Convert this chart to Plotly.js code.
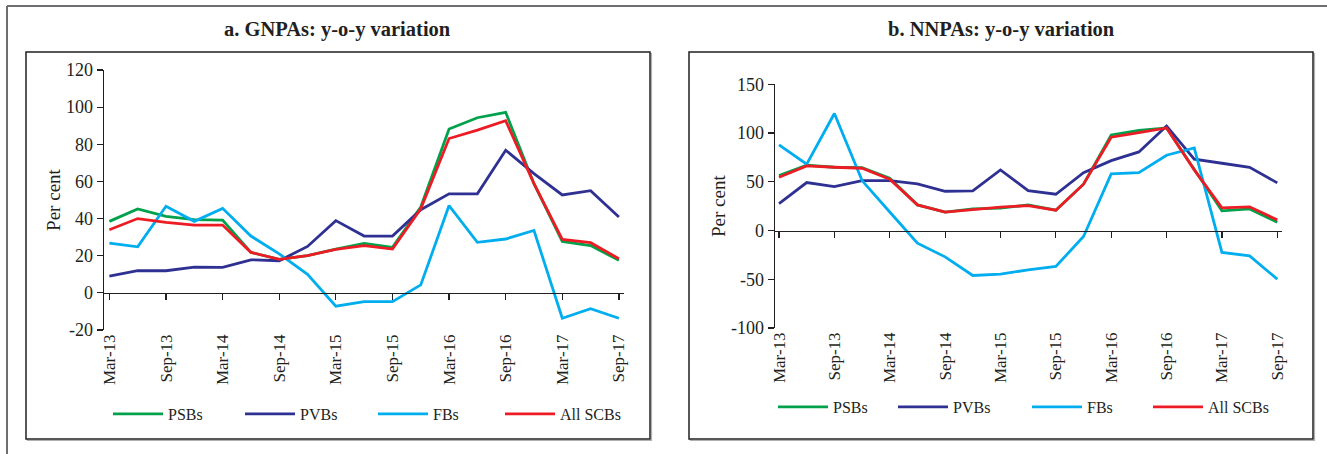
<!DOCTYPE html>
<html><head><meta charset="utf-8">
<script src="https://cdn.plot.ly/plotly-3.0.1.min.js"></script>
<style>html,body{margin:0;padding:0;background:#fff}#chart{width:1327px;height:454px}</style>
</head><body><div id="chart"></div>
<script>
// ---- data ----
const quarters = ["Mar-13","Jun-13","Sep-13","Dec-13","Mar-14","Jun-14","Sep-14","Dec-14","Mar-15","Jun-15","Sep-15","Dec-15","Mar-16","Jun-16","Sep-16","Dec-16","Mar-17","Jun-17","Sep-17"];
const tickLabels = ["Mar-13","Sep-13","Mar-14","Sep-14","Mar-15","Sep-15","Mar-16","Sep-16","Mar-17","Sep-17"];
const gnpaYTicks = [-20,0,20,40,60,80,100,120];
const nnpaYTicks = [-100,-50,0,50,100,150];
const seriesNames = ["PSBs","PVBs","FBs","All SCBs"];
const panelTitles = ["a. GNPAs: y-o-y variation","b. NNPAs: y-o-y variation"];
const yTitle = "Per cent";
const gnpaPSBs = [38.5,45.2,41.2,39.4,39.2,21.8,18,20.1,23.6,26.6,24.5,46.2,88.2,94.3,97.2,58.8,27.7,25.5,17.5];
const gnpaPVBs = [9,12,11.9,13.9,13.7,17.8,17.3,25,38.9,30.6,30.6,44.8,53.3,53.3,76.8,64.2,52.7,55,40.8];
const gnpaFBs  = [26.8,24.8,46.6,38.5,45.5,30.6,21,10,-7.2,-4.7,-4.7,4.3,47,27.2,29,33.6,-13.7,-8.5,-13.7];
const gnpaAll  = [34,40,38,36.5,36.5,21.8,18,20.1,23.4,25.4,23.6,45.3,83.1,87.6,92.7,58.8,28.8,27,18.4];
const nnpaPSBs = [56.4,67,64.9,64.6,53.6,26.3,18.8,22.2,23,26.3,20.8,47.5,98,102.8,105.2,62.2,20.2,22.2,8.5];
const nnpaPVBs = [27.7,49.2,45.1,51.2,51.2,47.8,40.3,40.7,62.2,41,37.2,59.4,71.7,80.6,107.3,73.1,69,64.9,48.9];
const nnpaFBs  = [87.8,68,120,51.2,19,-13,-27,-46.1,-44.8,-40.3,-36.9,-6.1,58.1,59.4,77.2,84.7,-22.5,-26,-49.9];
const nnpaAll  = [54.7,66.3,64.9,63.9,52.6,26.3,18.8,21.5,24,25.6,20.8,47.5,95.7,100.4,105.2,62.2,23.2,24.3,10.9];

// ---- styling / layout ----
const W = 1327, H = 454;
const fx = p => p / W, fy = p => 1 - p / H;
const colors = ["#00a14b", "#2e3192", "#00aeef", "#ed1c24"];
const FONT = "Liberation Serif, Times New Roman, serif";
const INK = "#231f20";

const panels = [
  {series:[gnpaPSBs,gnpaPVBs,gnpaFBs,gnpaAll], yticks:gnpaYTicks, xd:[fx(104),fx(624)], yd:[fy(330),fy(70)], yr:[-20,120], xr:[-0.19,18.18],
   legX:[113,245,378,505], legY:414, titleX:338, box:[26,52,650,439]},
  {series:[nnpaPSBs,nnpaPVBs,nnpaFBs,nnpaAll], yticks:nnpaYTicks, xd:[fx(775),fx(1282)], yd:[fy(328),fy(84.3)], yr:[-100,150], xr:[-0.145,18.17],
   legX:[778,898,1032,1153], legY:407, titleX:1001, box:[689,52,1313,439]}
];

const data = [];
const layout = {
  width: W, height: H, margin:{l:0,r:0,t:0,b:0},
  paper_bgcolor:"#fff", plot_bgcolor:"rgba(0,0,0,0)",
  font:{family:FONT, color:INK, size:17},
  showlegend:true, shapes:[], annotations:[]
};

panels.forEach((p, k) => {
  const xa = k === 0 ? "x" : "x2", ya = k === 0 ? "y" : "y2";
  const xo = k === 0 ? "x3" : "x4";
  const xKey = k === 0 ? "xaxis" : "xaxis2", yKey = k === 0 ? "yaxis" : "yaxis2";
  const xoKey = k === 0 ? "xaxis3" : "xaxis4";
  p.series.forEach((ys, i) => {
    const n = k*4 + i;
    const legName = "legend" + (n === 0 ? "" : (n + 1));
    data.push({type:"scatter", mode:"lines", name:seriesNames[i], x:quarters, y:ys,
      xaxis: i === 3 ? xo : xa, yaxis: ya, legend: legName,
      line:{color:colors[i], width:2.8}, hoverinfo:"skip"});
    layout[legName] = {
      x: fx(p.legX[i] - 5), y: fy(p.legY), xanchor:"left", yanchor:"middle",
      orientation:"h", bgcolor:"rgba(0,0,0,0)", borderwidth:0,
      font:{family:FONT, size:16, color:INK}, itemwidth:50
    };
  });
  layout[xKey] = {domain:p.xd, anchor:ya, type:"category", range:p.xr,
    tickmode:"array", tickvals:tickLabels, tickangle:-90, ticks:"", showline:false,
    showgrid:false, zeroline:false, tickfont:{family:FONT, size:17, color:INK}, automargin:false};
  layout[yKey] = {domain:p.yd, anchor:xa, range:p.yr, tickmode:"array", tickvals:p.yticks,
    ticktext:p.yticks.map(v => String(v)), ticks:"outside", ticklen:6,
    tickwidth:1.2, tickcolor:INK, showline:true, linecolor:INK, linewidth:1.5, showgrid:false, zeroline:false,
    tickfont:{family:FONT, size:18, color:INK}, automargin:false,
    title:{text:yTitle, font:{family:FONT, size:19, color:INK}, standoff:0}};
  const zeroPos = p.yd[0] + (0 - p.yr[0]) / (p.yr[1] - p.yr[0]) * (p.yd[1] - p.yd[0]);
  layout[xoKey] = {overlaying:xa, anchor:"free", position:zeroPos, type:"category", range:p.xr,
    tickmode:"array", tickvals:tickLabels, showticklabels:false, ticks:"outside", ticklen:6,
    tickwidth:1.2, tickcolor:INK, showline:true, linecolor:INK, linewidth:1.5, showgrid:false, zeroline:false};
  // frames
  const b = p.box;
  layout.shapes.push({type:"rect", xref:"paper", yref:"paper", x0:fx(b[0]+1.5), x1:fx(b[2]+1.5), y0:fy(b[3]+1.5), y1:fy(b[1]+1.5),
    line:{color:"#b0b0b0", width:1.2}, layer:"below"});
  layout.shapes.push({type:"rect", xref:"paper", yref:"paper", x0:fx(b[0]), x1:fx(b[2]), y0:fy(b[3]), y1:fy(b[1]),
    line:{color:INK, width:1.5}, fillcolor:"#fff", layer:"below"});
  layout.annotations.push({xref:"paper", yref:"paper", x:fx(p.titleX), y:fy(30), xanchor:"center", yanchor:"middle",
    text:"<b>" + panelTitles[k] + "</b>", showarrow:false, font:{family:FONT, size:20.5, color:INK}});
});
// outer frame lines
layout.shapes.push({type:"line", xref:"paper", yref:"paper", x0:fx(7), x1:1, y0:fy(6), y1:fy(6), line:{color:"#6d6e71", width:2}});
layout.shapes.push({type:"line", xref:"paper", yref:"paper", x0:fx(7), x1:fx(7), y0:fy(6), y1:0, line:{color:"#6d6e71", width:2}});

Plotly.newPlot("chart", data, layout, {staticPlot:true, displayModeBar:false});
</script>
</body></html>
